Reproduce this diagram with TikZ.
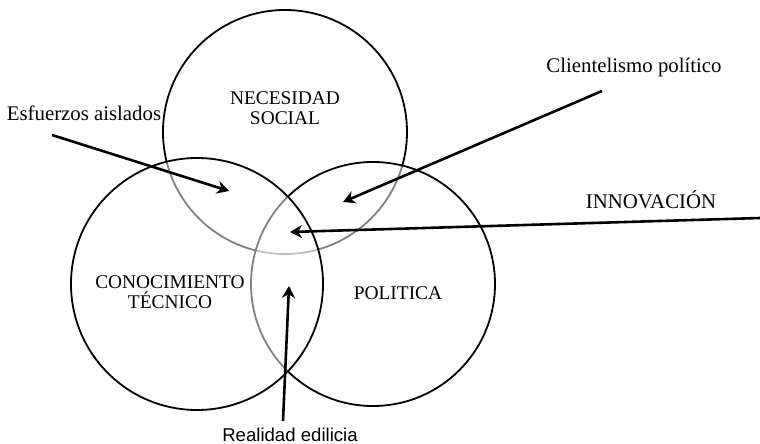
\documentclass[tikz,border=0pt]{standalone}
\usepackage{fontspec}
\setmainfont{Liberation Serif}
\newfontfamily\arialfont{Liberation Sans}
\usetikzlibrary{positioning,arrows.meta}

\tikzset{
  setcircle/.style={draw, circle, inner sep=0pt, line width=0.9pt, fill=white, fill opacity=0.5},
  inlabel/.style={align=center, inner sep=0pt, font=\fontsize{9.7}{10}\selectfont},
  outlabel/.style={inner sep=0pt, font=\fontsize{10.4}{12}\selectfont},
  pointer/.style={->, line width=1.3pt}
}

\begin{document}
\begin{tikzpicture}[x=0.5pt,y=-0.5pt,>={Stealth[length=6pt,width=6.5pt]}]
    \useasboundingbox (0,0) rectangle (760,444);
    % the three sets
    \node[setcircle, minimum size=122pt] (social) at (285,132) {};
    \node[setcircle, minimum size=122pt] (politica) at (373,284) {};
    \node[setcircle, minimum size=126pt] (tecnico) at (197,284) {};

    % set names
    \node[inlabel] (socialtxt) at (285,108) {NECESIDAD\\SOCIAL};
    \node[inlabel] (tecnicotxt) at (170,292) {CONOCIMIENTO\\T\'ECNICO};
    \node[inlabel] (politicatxt) at (398,293) {POLITICA};

    % outer labels
    \node[outlabel] (esfuerzos) at (84,113) {Esfuerzos aislados};
    \node[outlabel] (clientelismo) at (634,67) {Clientelismo pol\'itico};
    \node[outlabel] (innovacion) at (651,200) {INNOVACI\'ON};
    \node[outlabel, font=\arialfont\fontsize{9.3}{11}\selectfont] (realidad) at (290,435) {Realidad edilicia};

    % arrow ends
    \coordinate (esfuerzosA) at (52,135);
    \coordinate (esfuerzosB) at (229,191);
    \coordinate (clientelismoA) at (602,91);
    \coordinate (clientelismoB) at (343,202);
    \coordinate (innovacionA) at (760,218);
    \coordinate (innovacionB) at (290,232);
    \coordinate (realidadA) at (283,421);
    \coordinate (realidadB) at (289,286);

    \draw[pointer] (esfuerzosA) -- (esfuerzosB);
    \draw[pointer] (clientelismoA) -- (clientelismoB);
    \draw[pointer] (innovacionA) -- (innovacionB);
    \draw[pointer] (realidadA) -- (realidadB);
\end{tikzpicture}
\end{document}
